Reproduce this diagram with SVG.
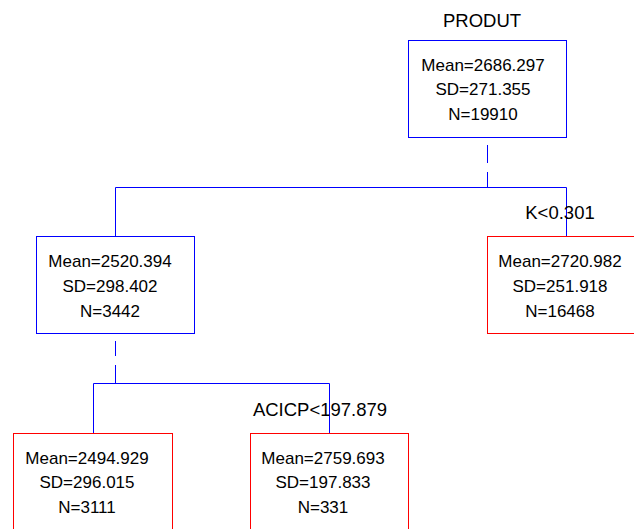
<svg xmlns="http://www.w3.org/2000/svg" width="634" height="529" viewBox="0 0 634 529">
<style>
  .bg { fill: #ffffff; }
  .inner { fill: #ffffff; stroke: #0000ff; stroke-width: 1; }
  .leaf { fill: #ffffff; stroke: #ff0000; stroke-width: 1; }
  .t { font-family: "Liberation Sans", Arial, sans-serif; font-size: 17px; fill: #000000; text-anchor: middle; }
  .lbl { font-family: "Liberation Sans", Arial, sans-serif; font-size: 18.5px; fill: #000000; text-anchor: middle; }
  .conn line, .conn polyline { stroke: #0000ff; stroke-width: 1; fill: none; }
</style>
<rect class="bg" x="0" y="0" width="634" height="529"/>
<g id="connectors" class="conn">
  <line x1="487.5" y1="145" x2="487.5" y2="163"/>
  <line x1="487.5" y1="172" x2="487.5" y2="187"/>
  <polyline points="115.5,236 115.5,187.5 566.5,187.5 566.5,236"/>
  <line x1="115.5" y1="341" x2="115.5" y2="356"/>
  <line x1="115.5" y1="365" x2="115.5" y2="383"/>
  <polyline points="93.5,433 93.5,383.5 329.5,383.5 329.5,433"/>
</g>
<g id="label-root">
  <text class="lbl" x="482" y="27">PRODUT</text>
</g>
<g id="label-k">
  <text class="lbl" x="560" y="219">K&lt;0.301</text>
</g>
<g id="label-acicp">
  <text class="lbl" x="320" y="416">ACICP&lt;197.879</text>
</g>
<g id="node-root">
  <rect class="inner" x="408.5" y="40.5" width="158" height="97"/>
  <text class="t" x="483" y="71">Mean=2686.297</text>
  <text class="t" x="483" y="95">SD=271.355</text>
  <text class="t" x="483" y="120">N=19910</text>
</g>
<g id="node-left">
  <rect class="inner" x="36.5" y="236.5" width="158" height="97"/>
  <text class="t" x="110" y="267">Mean=2520.394</text>
  <text class="t" x="110" y="292">SD=298.402</text>
  <text class="t" x="110" y="317">N=3442</text>
</g>
<g id="node-right">
  <rect class="leaf" x="487.5" y="236.5" width="158" height="97"/>
  <text class="t" x="560" y="267">Mean=2720.982</text>
  <text class="t" x="560" y="292">SD=251.918</text>
  <text class="t" x="560" y="317">N=16468</text>
</g>
<g id="node-left-left">
  <rect class="leaf" x="13.5" y="433.5" width="159" height="97"/>
  <text class="t" x="87" y="464">Mean=2494.929</text>
  <text class="t" x="87" y="488">SD=296.015</text>
  <text class="t" x="87" y="513">N=3111</text>
</g>
<g id="node-left-right">
  <rect class="leaf" x="250.5" y="433.5" width="158" height="97"/>
  <text class="t" x="323" y="464">Mean=2759.693</text>
  <text class="t" x="323" y="488">SD=197.833</text>
  <text class="t" x="323" y="513">N=331</text>
</g>
</svg>
